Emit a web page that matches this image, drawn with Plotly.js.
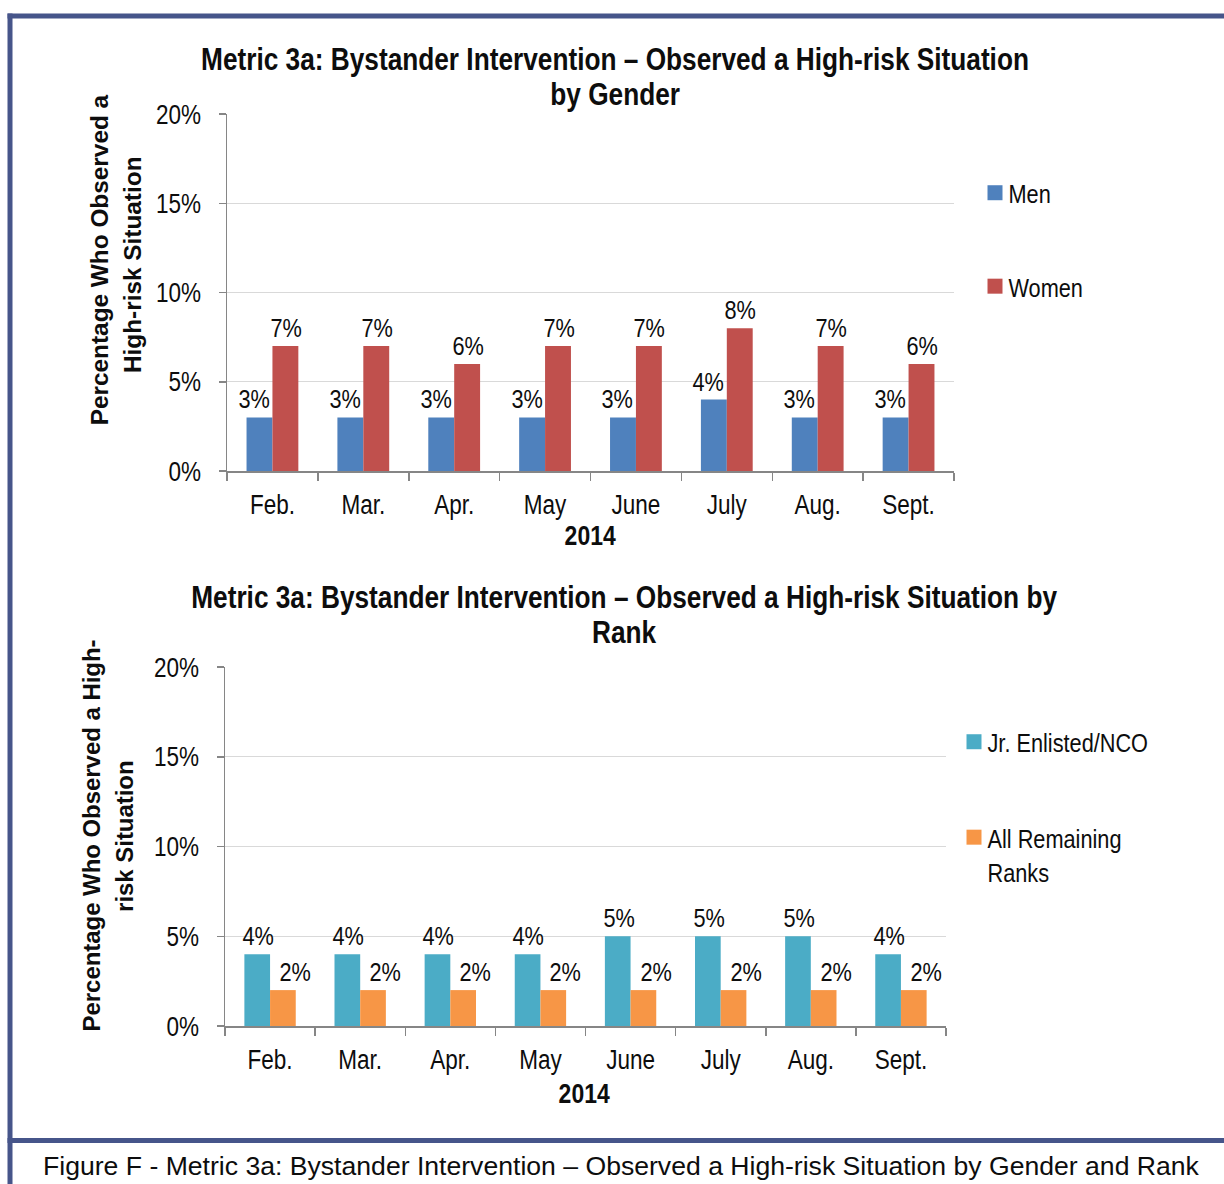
<!DOCTYPE html>
<html>
<head>
<meta charset="utf-8">
<script src="https://cdn.plot.ly/plotly-3.0.1.min.js"></script>
<style>
html,body{margin:0;padding:0;background:#fff;}
#chart{width:1224px;height:1184px;}
</style>
</head>
<body>
<div id="chart"></div>
<script>
// ---- data ----
const months = ['Feb.', 'Mar.', 'Apr.', 'May', 'June', 'July', 'Aug.', 'Sept.'];
const men = [3, 3, 3, 3, 3, 4, 3, 3];
const women = [7, 7, 6, 7, 7, 8, 7, 6];
const jrEnlisted = [4, 4, 4, 4, 5, 5, 5, 4];
const allRemaining = [2, 2, 2, 2, 2, 2, 2, 2];
const yTicks = [0, 5, 10, 15, 20];
const yTickText = ['0%', '5%', '10%', '15%', '20%'];
const title1Lines = ['Metric 3a: Bystander Intervention – Observed a High-risk Situation', 'by Gender'];
const title2Lines = ['Metric 3a: Bystander Intervention – Observed a High-risk Situation by', 'Rank'];
const yTitle1Lines = ['Percentage Who Observed a', 'High-risk Situation'];
const yTitle2Lines = ['Percentage Who Observed a High-', 'risk Situation'];
const xTitle = '2014';
const caption = 'Figure F - Metric 3a: Bystander Intervention – Observed a High-risk Situation by Gender and Rank';

const W = 1224, H = 1184;
const px = x => x / W;
const py = y => 1 - y / H;

const FONT = '"Liberation Sans", Arial, Helvetica, sans-serif';
const TXT = '#0d0d0d';
const AXIS = '#868686';
const GRID = '#d9d9d9';
const NARROW = 0.82;   // horizontal squeeze of chart text (narrow face look)

function bar(x, y, name, color, xa, ya, legend) {
  return {type: 'bar', x: x, y: y, name: name, xaxis: xa, yaxis: ya, legend: legend,
    legendgroup: name, marker: {color: color, line: {width: 0}}, hoverinfo: 'skip'};
}

const traces = [
  bar(months, men, 'Men', '#4F81BD', 'x', 'y', 'legend'),
  bar(months, women, 'Women', '#C0504D', 'x', 'y', 'legend'),
  bar(months, jrEnlisted, 'Jr. Enlisted/NCO', '#4BACC6', 'x2', 'y2', 'legend2'),
  bar(months, allRemaining, 'All Remaining<br>Ranks', '#F79646', 'x2', 'y2', 'legend2')
];

const annotations = [];
const annScale = [];
function addAnn(a, s) { annotations.push(a); annScale.push(s); }

function labels(vals, xref, yref, xshift) {
  vals.forEach((v, i) => addAnn({
    x: months[i], y: v, xref: xref, yref: yref, text: v + '%', showarrow: false,
    xanchor: 'center', yanchor: 'bottom', xshift: xshift, yshift: 2, borderpad: 0,
    font: {family: FONT, size: 26.5, color: TXT}
  }, NARROW));
}
labels(men, 'x', 'y', -18.5);
labels(women, 'x', 'y', 13.5);
labels(jrEnlisted, 'x2', 'y2', -12);
labels(allRemaining, 'x2', 'y2', 25);

function pAnn(text, x, y, size, bold, angle, s) {
  addAnn({text: bold ? '<b>' + text + '</b>' : text, xref: 'paper', yref: 'paper', x: px(x), y: py(y),
    showarrow: false, xanchor: 'center', yanchor: 'middle', textangle: angle || 0, borderpad: 0,
    font: {family: FONT, size: size, color: TXT}}, s);
}
pAnn(title1Lines[0], 615, 59, 32, true, 0, NARROW);
pAnn(title1Lines[1], 615, 94, 32, true, 0, NARROW);
pAnn(title2Lines[0], 624, 597, 32, true, 0, NARROW);
pAnn(title2Lines[1], 624, 632, 32, true, 0, NARROW);
pAnn(xTitle, 590, 535, 28, true, 0, NARROW);
pAnn(xTitle, 584, 1093, 28, true, 0, NARROW);
pAnn(yTitle1Lines[0], 100, 260, 23, true, -90, 1.06);
pAnn(yTitle1Lines[1], 133, 265, 23, true, -90, 1.06);
pAnn(yTitle2Lines[0], 92, 836, 23, true, -90, 1.04);
pAnn(yTitle2Lines[1], 125, 836, 23, true, -90, 1.04);
pAnn(caption, 621, 1166, 26.6, false, 0, 1);

function xAxis(domain, anchor) {
  return {domain: domain, anchor: anchor, type: 'category', showline: true, linecolor: AXIS, linewidth: 1.5,
    ticks: 'outside', tickson: 'boundaries', ticklen: 8, tickcolor: AXIS, tickwidth: 1.5,
    ticklabelstandoff: 9, showgrid: false, zeroline: false,
    tickfont: {family: FONT, size: 27.5, color: TXT}, fixedrange: true};
}
function yAxis(domain, anchor) {
  return {domain: domain, anchor: anchor, range: [0, 20], tickvals: yTicks, ticktext: yTickText,
    showline: true, linecolor: AXIS, linewidth: 1.5, ticks: 'outside', ticklen: 7, tickcolor: AXIS, tickwidth: 1.5,
    ticklabelstandoff: 12, showgrid: true, gridcolor: GRID, gridwidth: 1.2, zeroline: false,
    tickfont: {family: FONT, size: 27.5, color: TXT}, fixedrange: true};
}

const BORDER = '#46558A';
const layout = {
  width: W, height: H, margin: {l: 0, r: 0, t: 0, b: 0},
  paper_bgcolor: '#ffffff', plot_bgcolor: 'rgba(0,0,0,0)',
  barmode: 'group', bargap: 0.43, bargroupgap: 0,
  showlegend: true,
  xaxis: xAxis([px(227), px(954)], 'y'),
  yaxis: yAxis([py(471), py(114)], 'x'),
  xaxis2: xAxis([px(225), px(946)], 'y2'),
  yaxis2: yAxis([py(1026), py(667)], 'x2'),
  legend: {x: px(975), y: py(169), xanchor: 'left', yanchor: 'top', bgcolor: 'rgba(0,0,0,0)',
    font: {family: FONT, size: 26.5, color: TXT}, traceorder: 'grouped', tracegroupgap: 56, valign: 'top'},
  legend2: {x: px(954), y: py(718), xanchor: 'left', yanchor: 'top', bgcolor: 'rgba(0,0,0,0)',
    font: {family: FONT, size: 26.5, color: TXT}, traceorder: 'grouped', tracegroupgap: 58, valign: 'top'},
  annotations: annotations,
  shapes: [
    {type: 'line', xref: 'paper', yref: 'paper', x0: px(7.5), x1: 1, y0: py(16), y1: py(16), line: {color: BORDER, width: 5}},
    {type: 'line', xref: 'paper', yref: 'paper', x0: px(10), x1: px(10), y0: py(13.5), y1: 0, line: {color: BORDER, width: 5}},
    {type: 'line', xref: 'paper', yref: 'paper', x0: px(7.5), x1: 1, y0: py(1140.5), y1: py(1140.5), line: {color: BORDER, width: 5}}
  ]
};

function squeezeText(gd) {
  gd.querySelectorAll('text').forEach(t => {
    let s = NARROW, pre = '';
    const ann = t.closest('g.annotation');
    if (ann) s = annScale[+ann.getAttribute('data-index')];
    if (t.closest('g.legend') || t.closest('g.legend2') || t.classList.contains('legendtext')) pre = 'translate(-6.5,0) ';
    if (s === 1 && !pre) return;
    const x = parseFloat(t.getAttribute('x')) || 0;
    const y = parseFloat(t.getAttribute('y')) || 0;
    const old = t.getAttribute('transform') || '';
    t.setAttribute('transform', pre + old + ' translate(' + x + ',' + y + ') scale(' + s + ',1) translate(' + (-x) + ',' + (-y) + ')');
  });
  gd.querySelectorAll('.legendpoints path').forEach(p => p.setAttribute('d', 'M7.5,7.5H-7.5V-7.5H7.5Z'));
}

Plotly.newPlot('chart', traces, layout, {displayModeBar: false, staticPlot: true}).then(squeezeText);
</script>
</body>
</html>
